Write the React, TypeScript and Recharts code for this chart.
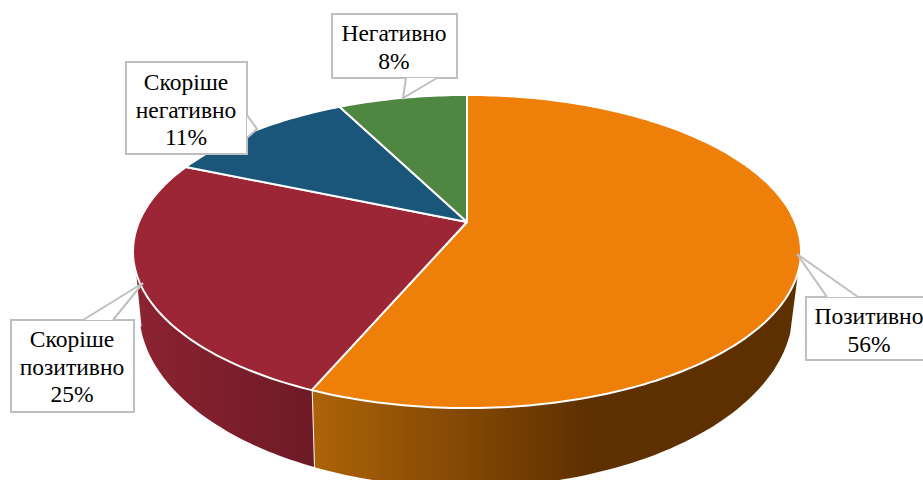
import React from 'react';
import { PieChart, Pie } from 'recharts';

const categories = ['Позитивно', 'Скоріше позитивно', 'Скоріше негативно', 'Негативно'];
const shares = [56.4, 25.0, 11.1, 7.5];
const topColors = ['#EE7F09', '#9C2636', '#1A5679', '#4F8642'];
const wallFills = ['url(#wallOrange)', 'url(#wallRed)', 'none', 'none'];

const chartData = categories.map((name, i) => ({ name, value: shares[i] }));

// perspective of the tilted disc: top face and the bottom edge of the wall
const K = 0.1885;
const topFace = { x: 467, y: 222, sx: 328, sy: 151 };
const bottomFace = { x: 466, y: 277, sx: 321, sy: 170.7 };
const FRONT_FROM = 108;
const FRONT_TO = 254;

// callout boxes, drawn by hand like the original data labels
const callouts = [
  { box: [806, 297, 140, 63], pointer: [[827, 297], [797, 254], [858, 297]], textX: 869, baseY: 324 },
  { box: [11, 320, 123, 92], pointer: [[83, 320], [143, 283], [113, 320]], textX: 72, baseY: 347 },
  { box: [126, 62, 121, 92], pointer: [[247, 115], [257, 129], [247, 138]], textX: 186, baseY: 90 },
  { box: [332, 14, 125, 64], pointer: [[406, 78], [403, 98], [437, 78]], textX: 394, baseY: 41 },
];

type Face = typeof topFace;

const project = (f: Face, deg: number) => {
  const r = (deg * Math.PI) / 180;
  const s = Math.sin(r);
  const c = Math.cos(r);
  const d = 1 + K * c;
  return [f.x + (s * f.sx) / d, f.y - (c * f.sy) / d];
};

const rim = (f: Face, from: number, to: number) => {
  const pts: number[][] = [];
  const n = Math.max(2, Math.ceil(Math.abs(to - from)));
  for (let i = 0; i <= n; i++) pts.push(project(f, from + ((to - from) * i) / n));
  return pts;
};

const toPath = (pts: number[][]) =>
  pts.map((p, i) => `${i ? 'L' : 'M'}${p[0].toFixed(1)} ${p[1].toFixed(1)}`).join(' ');

const TopSector = (props: any) => {
  const a0 = 90 - props.startAngle;
  const a1 = 90 - props.endAngle;
  const d = `M${topFace.x} ${topFace.y} ${toPath(rim(topFace, a0, a1)).replace('M', 'L')} Z`;
  return <path d={d} fill={topColors[props.index]} stroke="#fff" strokeWidth={2} strokeLinejoin="round" />;
};

const WallSector = (props: any) => {
  const a0 = Math.max(90 - props.startAngle, FRONT_FROM);
  const a1 = Math.min(90 - props.endAngle, FRONT_TO);
  if (a1 <= a0) return <g />;
  const d = `${toPath(rim(topFace, a0, a1))} ${toPath(rim(bottomFace, a1, a0)).replace('M', 'L')} Z`;
  const seamTop = project(topFace, a1);
  const seamBottom = project(bottomFace, a1);
  return (
    <g>
      <path d={d} fill={wallFills[props.index]} stroke="none" />
      <line x1={seamTop[0]} y1={seamTop[1]} x2={seamBottom[0]} y2={seamBottom[1]} stroke="#fff" strokeWidth={2} />
    </g>
  );
};

const Callout = (props: any) => {
  const c = callouts[props.index];
  const lines = [...categories[props.index].split(' '), `${Math.round(shares[props.index])}%`];
  const [x, y, w, h] = c.box;
  return (
    <g>
      <rect x={x} y={y} width={w} height={h} fill="#fff" stroke="#BFBFBF" strokeWidth={2} />
      <polygon points={c.pointer.map((p) => p.join(',')).join(' ')} fill="#fff" stroke="none" />
      <polyline points={c.pointer.map((p) => p.join(',')).join(' ')} fill="none" stroke="#BFBFBF" strokeWidth={2} />
      {lines.map((t, i) => (
        <text
          key={t}
          x={c.textX}
          y={c.baseY + i * 27.5}
          textAnchor="middle"
          fontFamily="'Liberation Serif', serif"
          fontSize={23.5}
          fill="#000"
        >
          {t}
        </text>
      ))}
    </g>
  );
};

const App = () => (
  <div style={{ position: 'absolute', left: 0, top: 0, width: 923, height: 480, overflow: 'hidden', background: '#fff' }}>
    <PieChart width={923} height={480} margin={{ top: 0, right: 0, bottom: 0, left: 0 }}>
      <defs>
        <linearGradient id="wallOrange" gradientUnits="userSpaceOnUse" x1="312" y1="0" x2="590" y2="0">
          <stop offset="0%" stopColor="#AD6408" />
          <stop offset="100%" stopColor="#5E3000" />
        </linearGradient>
        <linearGradient id="wallRed" gradientUnits="userSpaceOnUse" x1="135" y1="0" x2="315" y2="0">
          <stop offset="0%" stopColor="#8C2331" />
          <stop offset="100%" stopColor="#6E1A27" />
        </linearGradient>
      </defs>
      <Pie
        data={chartData}
        dataKey="value"
        nameKey="name"
        cx={467}
        cy={222}
        outerRadius={150}
        startAngle={90}
        endAngle={-270}
        shape={WallSector}
        isAnimationActive={false}
      />
      <Pie
        data={chartData}
        dataKey="value"
        nameKey="name"
        cx={467}
        cy={222}
        outerRadius={150}
        startAngle={90}
        endAngle={-270}
        shape={TopSector}
        label={Callout}
        labelLine={false}
        isAnimationActive={false}
      />
    </PieChart>
  </div>
);

export default App;
